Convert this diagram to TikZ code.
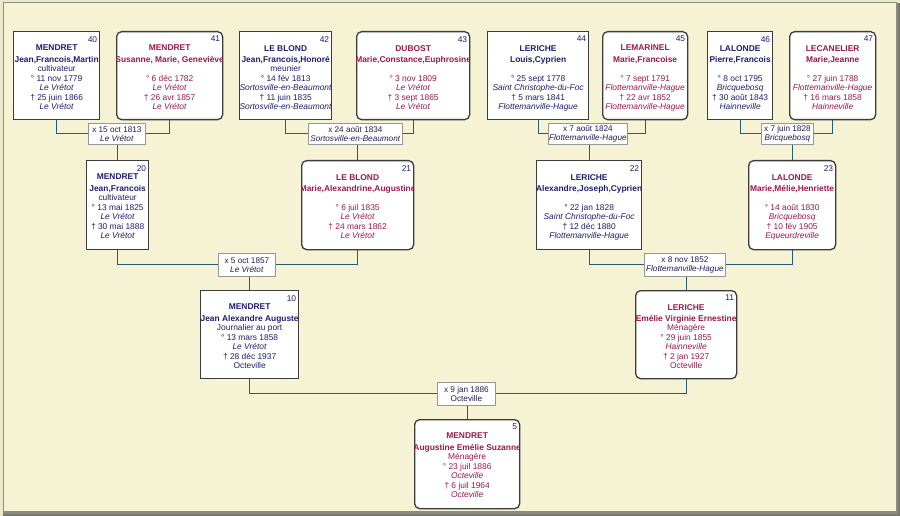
\documentclass[tikz,border=0pt]{standalone}
\usepackage{fontspec}
\setmainfont{Liberation Sans}
\definecolor{bgcream}{RGB}{245,243,211}
\definecolor{frameout}{RGB}{236,234,205}
\definecolor{framegray}{RGB}{140,140,125}
\definecolor{framedark}{RGB}{120,120,108}
\definecolor{malecol}{RGB}{30,30,110}
\definecolor{femcol}{RGB}{155,25,75}
\definecolor{conncol}{RGB}{40,90,120}
\definecolor{boxborder}{RGB}{60,60,60}
\definecolor{marborder}{RGB}{150,150,150}
\definecolor{martext}{RGB}{30,30,90}
\tikzset{
  mbox/.style={draw=boxborder, line width=1.3pt, fill=white, rectangle, inner sep=0pt},
  fbox/.style={draw=boxborder, line width=1.3pt, fill=white, rectangle, rounded corners=5pt, inner sep=0pt},
  mtext/.style={text=malecol, align=center, inner sep=0pt, font=\fontsize{8.4}{9.5}\selectfont},
  ftext/.style={text=femcol, align=center, inner sep=0pt, font=\fontsize{8.4}{9.5}\selectfont},
  numtext/.style={text=malecol, inner sep=0pt, font=\fontsize{8.4}{9.5}\selectfont},
  marbox/.style={draw=marborder, line width=0.8pt, fill=white, rectangle, inner sep=0pt, align=center,
    text=martext, font=\fontsize{8.2}{9.3}\selectfont, anchor=north west},
  conn/.style={draw=conncol, line width=1.1pt},
}
% #1 name, #2 m/f, #3 x, #4 y, #5 w, #6 h, #7 number, #8 text
\newcommand\personbox[8]{%
  \node[#2box, minimum width=#5pt, minimum height=#6pt, anchor=north west] (#1) at (#3,#4) {};
  \begin{scope}
    \clip ([xshift=0.7pt]#1.north west) rectangle ([xshift=-0.7pt]#1.south east);
    \node[#2text, anchor=north] (#1t) at ([yshift=-14pt]#1.north) {#8};
  \end{scope}
  \node[numtext, anchor=north east] (#1n) at ([xshift=-3pt,yshift=-5pt]#1.north east) {#7};
}
\newcommand\plines[7]{{\bfseries #1}\\[1.6pt]{\bfseries #2}\\#3\\° #4\\#5\\† #6\\#7}
\begin{document}
\begin{tikzpicture}[x=1pt,y=-1pt]
\useasboundingbox (0,0) rectangle (900,516);
% frame
\fill[frameout] (0,0) rectangle (900,516);
\fill[bgcream] (3,3) rectangle (897,511);
\draw[framegray, line width=1pt] (3,511) -- (3,3) -- (897,3);
\fill[framegray] (896,3) rectangle (900,516);
\fill[framegray] (3,510.5) rectangle (900,516);
\fill[framedark] (898,3) rectangle (900,516);
\fill[framedark] (3,514) rectangle (900,516);

% generation 1
\personbox{p40}{m}{13}{31}{86}{88}{40}{\plines{MENDRET}{Jean,Francois,Martin}{cultivateur}{11 nov 1779}{\textit{Le Vrétot}}{25 juin 1866}{\textit{Le Vrétot}}}
\personbox{p41}{f}{116}{31}{106}{88}{41}{\plines{MENDRET}{Susanne, Marie, Geneviève}{\mbox{}}{6 déc 1782}{\textit{Le Vrétot}}{26 avr 1857}{\textit{Le Vrétot}}}
\personbox{p42}{m}{239}{31}{92}{88}{42}{\plines{LE BLOND}{Jean,Francois,Honoré}{meunier}{14 fév 1813}{\textit{Sortosville-en-Beaumont}}{11 juin 1835}{\textit{Sortosville-en-Beaumont}}}
\personbox{p43}{f}{356}{31}{113}{88}{43}{\plines{DUBOST}{Marie,Constance,Euphrosine}{\mbox{}}{3 nov 1809}{\textit{Le Vrétot}}{3 sept 1865}{\textit{Le Vrétot}}}
\personbox{p44}{m}{487}{31}{101}{88}{44}{\plines{LERICHE}{Louis,Cyprien}{\mbox{}}{25 sept 1778}{\textit{Saint Christophe-du-Foc}}{5 mars 1841}{\textit{Flottemanville-Hague}}}
\personbox{p45}{f}{602}{31}{85}{88}{45}{\plines{LEMARINEL}{Marie,Francoise}{\mbox{}}{7 sept 1791}{\textit{Flottemanville-Hague}}{22 avr 1852}{\textit{Flottemanville-Hague}}}
\personbox{p46}{m}{707}{31}{65}{88}{46}{\plines{LALONDE}{Pierre,Francois}{\mbox{}}{8 oct 1795}{\textit{Bricquebosq}}{30 août 1843}{\textit{Hainneville}}}
\personbox{p47}{f}{789}{31}{86}{88}{47}{\plines{LECANELIER}{Marie,Jeanne}{\mbox{}}{27 juin 1788}{\textit{Flottemanville-Hague}}{16 mars 1858}{\textit{Hainneville}}}

\node[marbox, minimum width=57pt, minimum height=21pt] (m1) at (88,123) {x 15 oct 1813\\\textit{Le Vrétot}};
\node[marbox, minimum width=94pt, minimum height=21pt] (m2) at (308,123) {x 24 août 1834\\\textit{Sortosville-en-Beaumont}};
\node[marbox, minimum width=79pt, minimum height=21pt] (m3) at (548,123) {x 7 août 1824\\\textit{Flottemanville-Hague}};
\node[marbox, minimum width=52pt, minimum height=21pt] (m4) at (761,123) {x 7 juin 1828\\\textit{Bricquebosq}};

% generation 2
\personbox{p20}{m}{86}{160}{62}{89}{20}{\plines{MENDRET}{Jean,Francois}{cultivateur}{13 mai 1825}{\textit{Le Vrétot}}{30 mai 1888}{\textit{Le Vrétot}}}
\personbox{p21}{f}{301}{160}{112}{89}{21}{\plines{LE BLOND}{Marie,Alexandrine,Augustine}{\mbox{}}{6 juil 1835}{\textit{Le Vrétot}}{24 mars 1862}{\textit{Le Vrétot}}}
\personbox{p22}{m}{536}{160}{105}{89}{22}{\plines{LERICHE}{Alexandre,Joseph,Cyprien}{\mbox{}}{22 jan 1828}{\textit{Saint Christophe-du-Foc}}{12 déc 1880}{\textit{Flottemanville-Hague}}}
\personbox{p23}{f}{748}{160}{87}{89}{23}{\plines{LALONDE}{Marie,Mélie,Henriette}{\mbox{}}{14 août 1830}{\textit{Bricquebosq}}{10 fév 1905}{\textit{Equeurdreville}}}

\node[marbox, minimum width=57pt, minimum height=23pt] (m5) at (218,253) {x 5 oct 1857\\\textit{Le Vrétot}};
\node[marbox, minimum width=81pt, minimum height=23pt] (m6) at (644,253) {x 8 nov 1852\\\textit{Flottemanville-Hague}};

% generation 3
\personbox{p10}{m}{200}{290}{98}{88}{10}{\plines{MENDRET}{Jean Alexandre Auguste}{Journalier au port}{13 mars 1858}{\textit{Le Vrétot}}{28 déc 1937}{Octeville}}
\personbox{p11}{f}{635}{290}{101}{88}{11}{\plines{LERICHE}{Emélie Virginie Ernestine}{Ménagère}{29 juin 1855}{\textit{Hainneville}}{2 jan 1927}{Octeville}}

\node[marbox, minimum width=58pt, minimum height=23pt] (m7) at (437,382) {x 9 jan 1886\\Octeville};

% generation 4
\personbox{p5}{f}{414}{419}{105}{89}{5}{\plines{MENDRET}{Augustine Emélie Suzanne}{Ménagère}{23 juil 1886}{\textit{Octeville}}{6 juil 1964}{\textit{Octeville}}}

% connectors
\draw[conn] (p40.south) |- (m1.west);
\draw[conn] (p41.south) |- (m1.east);
\draw[conn] (p20.north) -- (p20.north |- m1.south);
\draw[conn] (p42.south) |- (m2.west);
\draw[conn] (p43.south) |- (m2.east);
\draw[conn] (p21.north) -- (p21.north |- m2.south);
\draw[conn] (p44.south) |- (m3.west);
\draw[conn] (p45.south) |- (m3.east);
\draw[conn] (p22.north) -- (p22.north |- m3.south);
\draw[conn] (p46.south) |- (m4.west);
\draw[conn] (p47.south) |- (m4.east);
\draw[conn] (p23.north) -- (p23.north |- m4.south);
\draw[conn] (p20.south) |- (m5.west);
\draw[conn] (p21.south) |- (m5.east);
\draw[conn] (p10.north) -- (p10.north |- m5.south);
\draw[conn] (p22.south) |- (m6.west);
\draw[conn] (p23.south) |- (m6.east);
\draw[conn] (p11.north) -- (p11.north |- m6.south);
\draw[conn] (p10.south) |- (m7.west);
\draw[conn] (p11.south) |- (m7.east);
\draw[conn] (p5.north) -- (p5.north |- m7.south);
\end{tikzpicture}
\end{document}
